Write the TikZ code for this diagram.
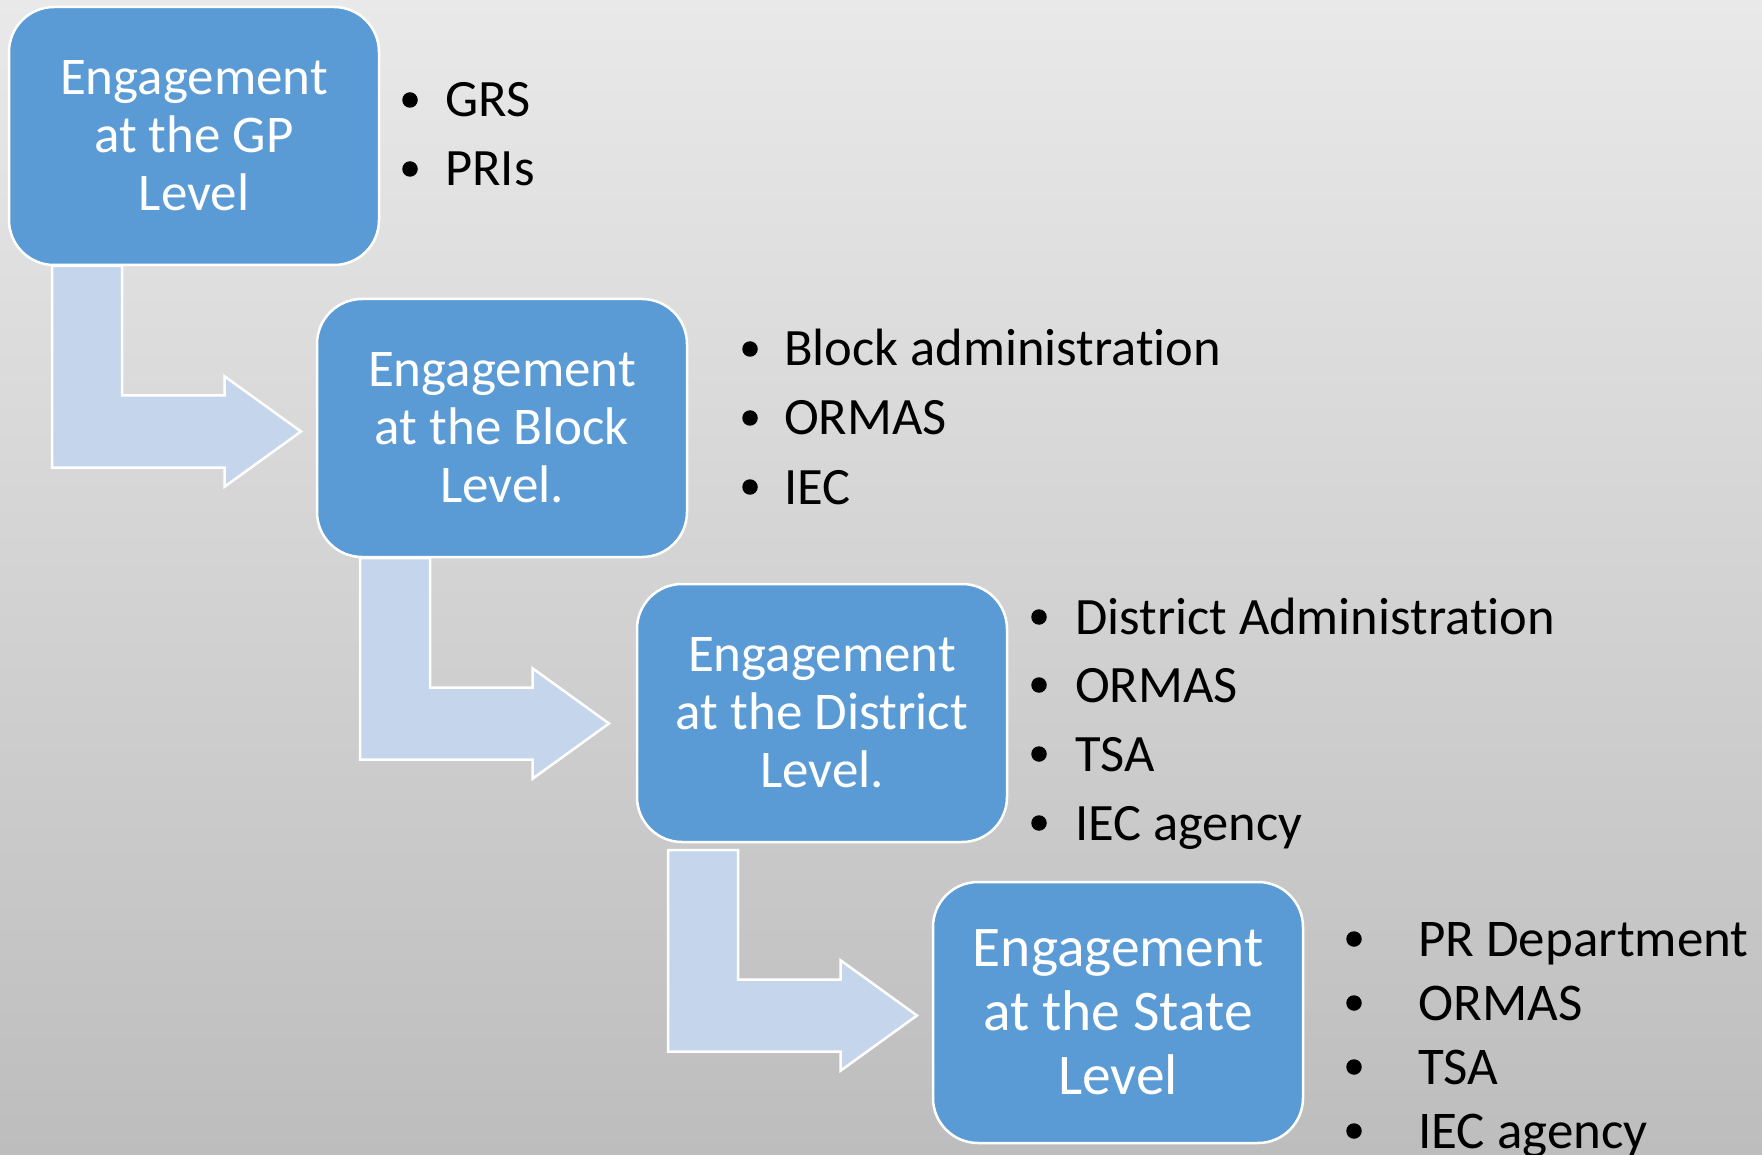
\documentclass[tikz,border=0pt]{standalone}
\usepackage{fontspec}
\setmainfont{Carlito}
\newcommand{\nolig}{\kern0pt\relax}
\definecolor{boxblue}{HTML}{5B9BD5}
\definecolor{arrowblue}{HTML}{C5D5EB}
\definecolor{bgtop}{HTML}{E9E9E9}
\definecolor{bgmid}{HTML}{DDDDDD}
\definecolor{bgbot}{HTML}{BDBDBD}
\begin{document}
\begin{tikzpicture}[x=1pt,y=-1pt,
  level/.style={draw=white, line width=2.5pt, fill=boxblue, rounded corners=45pt,
    minimum width=370pt, minimum height=258pt, inner sep=0pt, align=center,
    text=white, font=\fontsize{53}{58}\selectfont},
  bigger/.style={font=\fontsize{57.5}{64}\selectfont, minimum height=261pt},
  bent/.style={draw=white, line width=2.5pt, fill=arrowblue, line join=miter},
  item/.style={anchor=base west, inner sep=0pt, font=\fontsize{52.5}{62}\selectfont},
  itemb/.style={item, font=\fontsize{53}{64}\selectfont},
  dot/.style={circle, fill=black, inner sep=0pt, minimum size=15.5pt}]
\useasboundingbox (0,0) rectangle (1762,1155);
\shade[top color=bgtop, middle color=bgmid, bottom color=bgbot] (0,0) rectangle (1762,1155);

% bent arrows
\foreach \i in {0,1,2}{
  \begin{scope}[shift={(308*\i,292*\i)}]
    \draw[bent] (52,266) -- (122,266) -- (122,395.5) -- (224.7,395.5) -- (224.7,376.4)
      -- (301,431.5) -- (224.7,486.6) -- (224.7,467.5) -- (52,467.5) -- cycle;
  \end{scope}
}

% level boxes
\node[level] (b1) at (194,136) {Engagement\\at the GP\\Level};
\node[level] (b2) at (502,428) {Engagement\\at the Block\\Level.};
\node[level] (b3) at (822,713) {Engagement\\at the District\\Level.};
\node[level,bigger] (b4) at (1118,1012.5) {Engagement\\at the State\\Level};

% list 1
\node[dot] (d11) at (410,100) {};
\node[item] (t11) at (445,117) {GRS};
\node[dot] (d12) at (410,169) {};
\node[item] (t12) at (445,186) {PRIs};

% list 2
\node[dot] (d21) at (750,349) {};
\node[item] (t21) at (784,366) {Block administrat\nolig ion};
\node[dot] (d22) at (750,418) {};
\node[item] (t22) at (784,435) {ORMAS};
\node[dot] (d23) at (750,487) {};
\node[item] (t23) at (784,504) {IEC};

% list 3
\node[dot] (d31) at (1039,617) {};
\node[item] (t31) at (1075,634) {District Administrat\nolig ion};
\node[dot] (d32) at (1039,685) {};
\node[item] (t32) at (1075,702) {ORMAS};
\node[dot] (d33) at (1039,754) {};
\node[item] (t33) at (1075,771) {TSA};
\node[dot] (d34) at (1039,823) {};
\node[item] (t34) at (1075,840) {IEC agency};

% list 4
\node[dot] (d41) at (1354,939) {};
\node[itemb] (t41) at (1418,956) {PR Department};
\node[dot] (d42) at (1354,1003) {};
\node[itemb] (t42) at (1418,1020) {ORMAS};
\node[dot] (d43) at (1354,1067) {};
\node[itemb] (t43) at (1418,1084) {TSA};
\node[dot] (d44) at (1354,1131) {};
\node[itemb] (t44) at (1418,1148) {IEC agency};
\end{tikzpicture}
\end{document}
